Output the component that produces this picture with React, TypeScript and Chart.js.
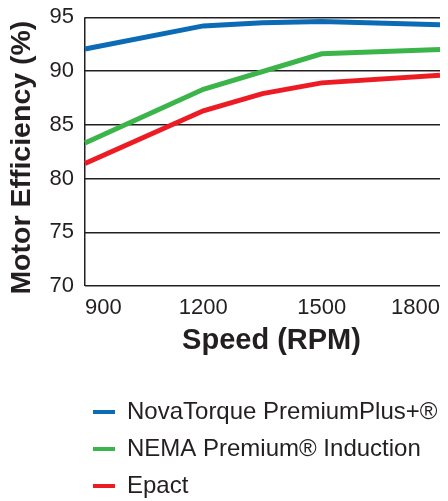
import React, { useEffect, useRef } from "react";
import { Chart, registerables } from "chart.js";

Chart.register(...registerables);

// ---- data ----
const speeds = [900, 1200, 1350, 1500, 1800];
const novaTorque = [92.05, 94.2, 94.5, 94.6, 94.3];
const nemaPremium = [83.3, 88.3, null, 91.6, 92.0];
const epact = [81.4, 86.3, 87.9, 88.9, 89.6];
const seriesLabels = ["NovaTorque PremiumPlus+®", "NEMA Premium® Induction", "Epact"];
const seriesColors = ["#0b6bb5", "#3bb54a", "#ed1c24"];
const xTickValues = [900, 1200, 1500, 1800];
const yMin = 70;
const yMax = 95;
const yStep = 5;
const xTitle = "Speed (RPM)";
const yTitle = "Motor Efficiency (%)";

const FONT = "'Liberation Sans', Arial, Helvetica, sans-serif";
const INK = "#231f20";
const CLEAR = "rgba(0,0,0,0)";

// places the legend block and nudges the axis titles like the reference
const layoutNudge = {
  id: "layoutNudge",
  afterLayout(chart: any) {
    const lg = chart.legend;
    if (!lg) return;
    const left = 72;
    const top = 379;
    lg.left = left;
    lg.right = left + chart.width;
    lg.top = top;
    lg.bottom = top + lg.height;
  },
  beforeDraw(chart: any) {
    const { x, y } = chart.scales;
    x.left += 18;
    y.top += 12;
  },
  afterDraw(chart: any) {
    const { x, y } = chart.scales;
    x.left -= 18;
    y.top -= 12;
  },
};

export default function App() {
  const ref = useRef<HTMLCanvasElement | null>(null);

  useEffect(() => {
    if (!ref.current) return;
    const series = [novaTorque, nemaPremium, epact];
    const chart = new Chart(ref.current, {
      type: "line",
      data: {
        datasets: series.map((vals, i) => ({
          label: seriesLabels[i],
          data: speeds.map((s, j) => ({ x: s, y: vals[j] as any })),
          borderColor: seriesColors[i],
          backgroundColor: seriesColors[i],
          borderWidth: 5,
          pointRadius: 0,
          tension: 0,
          spanGaps: true,
          clip: false,
          borderJoinStyle: "miter" as const,
        })),
      },
      plugins: [layoutNudge],
      options: {
        animation: false,
        responsive: true,
        maintainAspectRatio: false,
        events: [],
        layout: { padding: { top: 9.3, left: 0, right: 0, bottom: 0 } },
        plugins: {
          tooltip: { enabled: false },
          legend: {
            display: true,
            position: "bottom",
            align: "start",
            labels: {
              boxWidth: 22,
              boxHeight: 4,
              padding: 13,
              color: INK,
              font: { family: FONT, size: 24 },
              generateLabels: (c: any) =>
                c.data.datasets.map((ds: any, i: number) => ({
                  text: ds.label,
                  fillStyle: ds.borderColor,
                  strokeStyle: ds.borderColor,
                  lineWidth: 0,
                  hidden: false,
                  datasetIndex: i,
                  fontColor: INK,
                })),
            },
          },
        },
        scales: {
          x: {
            type: "linear",
            min: speeds[0],
            max: speeds[speeds.length - 1],
            afterBuildTicks: (s: any) => {
              s.ticks = xTickValues.map((v) => ({ value: v }));
            },
            afterFit: (s: any) => {
              s.height = s.chart.height - s.chart.legend.height - 278;
            },
            grid: {
              display: true,
              drawOnChartArea: true,
              drawTicks: true,
              tickLength: 9,
              lineWidth: 1.5,
              color: (ctx: any) => (ctx.tick && ctx.tick.value === speeds[0] ? INK : CLEAR),
              tickColor: CLEAR,
            },
            border: { display: false },
            ticks: {
              align: "inner",
              padding: 0,
              color: INK,
              font: { family: FONT, size: 22 },
              maxRotation: 0,
              callback: (v: any) => String(v),
            },
            title: {
              display: true,
              text: xTitle,
              color: INK,
              font: { family: FONT, size: 29, weight: "bold", lineHeight: 1 },
              padding: { top: 0, bottom: 25 },
            },
          },
          y: {
            min: yMin,
            max: yMax,
            afterFit: (s: any) => {
              s.width = 77;
            },
            ticks: {
              stepSize: yStep,
              padding: 0,
              color: INK,
              font: { family: FONT, size: 22, lineHeight: 0.8 },
            },
            grid: {
              color: INK,
              lineWidth: 1.5,
              drawTicks: true,
              tickLength: 11,
              tickColor: CLEAR,
            },
            border: { display: false },
            title: {
              display: true,
              text: yTitle,
              color: INK,
              font: { family: FONT, size: 28.5, weight: "bold", lineHeight: 1 },
              padding: 0,
            },
          },
        },
      },
    } as any);
    return () => chart.destroy();
  }, []);

  return (
    <div style={{ position: "fixed", top: 8, left: 8, width: 432, height: 493 }}>
      <canvas ref={ref} />
    </div>
  );
}
